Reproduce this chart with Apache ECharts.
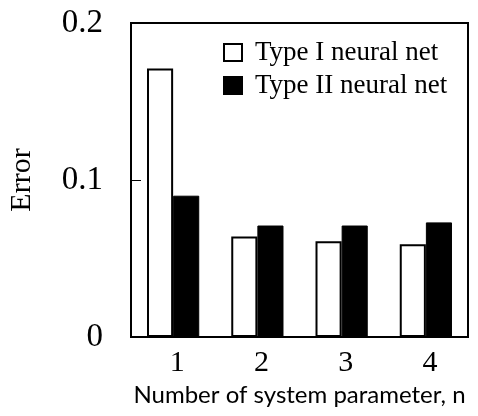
<!DOCTYPE html>
<html>
<head>
<meta charset="utf-8">
<script src="https://cdn.jsdelivr.net/npm/echarts@6/dist/echarts.min.js"></script>
<style>html,body{margin:0;padding:0;background:#fff}#c{width:478px;height:416px}</style>
</head>
<body>
<div id="c"></div>
<script>
const categories = ['1', '2', '3', '4'];
const typeI = [0.171, 0.064, 0.061, 0.059];
const typeII = [0.090, 0.071, 0.071, 0.073];
const seriesNames = ['Type I neural net', 'Type II neural net'];
const yTicks = [0, 0.1, 0.2];

const FONT = '"Liberation Serif", "DejaVu Serif", serif';
const chart = echarts.init(document.getElementById('c'));
chart.setOption({
  animation: false,
  backgroundColor: '#fff',
  grid: { left: 131, right: 10, top: 23, bottom: 79, containLabel: false, outerBoundsMode: 'none',
    show: true, borderColor: '#000', borderWidth: 2, backgroundColor: 'transparent' },
  legend: {
    orient: 'vertical', left: 218, top: 34, itemWidth: 18, itemHeight: 17, itemGap: 6,
    textStyle: { fontFamily: FONT, fontSize: 27, color: '#000', padding: [0, 0, 0, 8] },
    data: [
      { name: seriesNames[0], icon: 'rect', itemStyle: { color: '#fff', borderColor: '#000', borderWidth: 2 } },
      { name: seriesNames[1], icon: 'rect', itemStyle: { color: '#000' } }
    ]
  },
  xAxis: {
    type: 'category', data: categories,
    name: 'Number of system parameter, n', nameLocation: 'middle', nameGap: 44,
    nameTextStyle: { fontFamily: 'Lato, "Noto Sans", sans-serif', fontSize: 24, color: '#000' },
    axisLine: { lineStyle: { color: '#000', width: 2 } },
    axisTick: { inside: true, length: 6, lineStyle: { color: '#000' } },
    axisLabel: { fontFamily: FONT, fontSize: 30, color: '#000', margin: 11, padding: [0, 0, 0, 8] }
  },
  yAxis: {
    type: 'value', min: 0, max: 0.2, interval: 0.1,
    name: 'Error', nameLocation: 'middle', nameGap: 94,
    nameTextStyle: { fontFamily: FONT, fontSize: 30, color: '#000', padding: [0, 0, 0, 0] },
    axisLine: { show: true, lineStyle: { color: '#000', width: 2 } },
    axisTick: { show: true, inside: true, length: 10, lineStyle: { color: '#000' } },
    splitLine: { show: false },
    axisLabel: { fontFamily: FONT, fontSize: 33, color: '#000', margin: 28, padding: [12, 0, 0, 0],
      formatter: v => { const t = yTicks.find(x => Math.abs(x - v) < 1e-9); return t === 0 ? '0' : String(t); } }
  },
  series: [
    { name: seriesNames[0], type: 'bar', data: typeI, barWidth: '31%', barGap: '0%',
      itemStyle: { color: '#fff', borderColor: '#000', borderWidth: 2 } },
    { name: seriesNames[1], type: 'bar', data: typeII, barWidth: '31%', barGap: '0%',
      itemStyle: { color: '#000', borderColor: '#000', borderWidth: 1 } }
  ]
});
</script>
</body>
</html>
